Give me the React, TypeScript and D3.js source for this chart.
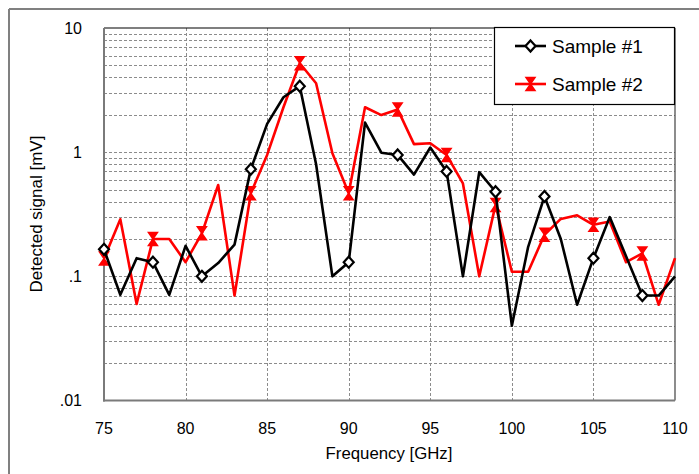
import React from "react";
import * as d3 from "d3";

const freqs = [75, 76, 77, 78, 79, 80, 81, 82, 83, 84, 85, 86, 87, 88, 89, 90, 91, 92, 93, 94, 95, 96, 97, 98, 99, 100, 101, 102, 103, 104, 105, 106, 107, 108, 109, 110];
const sample1 = [0.165, 0.071, 0.14, 0.13, 0.071, 0.176, 0.1, 0.128, 0.18, 0.73, 1.69, 2.77, 3.4, 0.8, 0.1, 0.13, 1.73, 0.99, 0.95, 0.66, 1.09, 0.7, 0.1, 0.69, 0.48, 0.04, 0.173, 0.44, 0.2, 0.059, 0.14, 0.3, 0.145, 0.07, 0.07, 0.1];
const sample2 = [0.139, 0.288, 0.06, 0.2, 0.2, 0.13, 0.222, 0.544, 0.07, 0.467, 0.95, 2.3, 5.2, 3.59, 0.98, 0.467, 2.3, 1.99, 2.21, 1.16, 1.18, 0.95, 0.56, 0.1, 0.376, 0.109, 0.109, 0.216, 0.29, 0.31, 0.26, 0.276, 0.13, 0.153, 0.059, 0.14];
const xTicks = [75, 80, 85, 90, 95, 100, 105, 110];
const yTicks = [10, 1, 0.1, 0.01];
const yTickLabels = ["10", "1", ".1", ".01"];
const seriesNames = ["Sample #1", "Sample #2"];

const FONT = "Arial, 'Liberation Sans', sans-serif";

const diamond = "M0,-5.5L5,0L0,5.5L-5,0Z";
const hourglass = "M-4.5,-6.5L4.5,-6.5L0,0ZM-4.5,6.5L4.5,6.5L0,0Z";

export default function App() {
  const L = 104, R = 675, T = 28, B = 400.5;
  const x = d3.scaleLinear().domain([75, 110]).range([L, R]);
  const y = d3.scaleLog().domain([0.01, 10]).range([B, T]);

  const gridY: number[] = [];
  [0.01, 0.1, 1].forEach((dec) => {
    for (let k = 1; k <= 9; k++) {
      const v = k * dec;
      if (v > 0.0100001) gridY.push(v);
    }
  });
  const gridX = xTicks.filter((t) => t > 75 && t < 110);

  const line = d3
    .line<number>()
    .x((_, i) => x(freqs[i]))
    .y((d) => y(d));

  const markerIdx = freqs.map((_, i) => i).filter((i) => i % 3 === 0 && freqs[i] <= 108);

  return (
    <div style={{ position: "absolute", left: 0, top: 0 }}>
      <svg width={699} height={474} style={{ display: "block", background: "#fff" }}>
        {/* outer frame */}
        <line x1={9} y1={9} x2={699} y2={9} stroke="#808080" strokeWidth={2} />
        <line x1={9} y1={9} x2={9} y2={474} stroke="#808080" strokeWidth={2} />

        {/* grid */}
        {gridY.map((v, i) => (
          <line key={"gy" + i} x1={L} x2={R} y1={Math.round(y(v)) + 0.5} y2={Math.round(y(v)) + 0.5} stroke="#8c8c8c" strokeWidth={1} strokeDasharray="3,2" />
        ))}
        {gridX.map((v, i) => (
          <line key={"gx" + i} x1={Math.round(x(v)) + 0.5} x2={Math.round(x(v)) + 0.5} y1={T} y2={B} stroke="#8c8c8c" strokeWidth={1} strokeDasharray="3,2" />
        ))}

        {/* plot borders */}
        <line x1={L} y1={T} x2={R} y2={T} stroke="#000" strokeWidth={1.2} />
        <line x1={R} y1={T} x2={R} y2={B} stroke="#404040" strokeWidth={1.2} />
        <line x1={L} y1={T} x2={L} y2={B + 1} stroke="#7a7a7a" strokeWidth={2} />
        <line x1={L - 1} y1={B} x2={R} y2={B} stroke="#7a7a7a" strokeWidth={2} />

        {/* series */}
        <path d={line(sample2) || ""} fill="none" stroke="#ff0000" strokeWidth={2.6} strokeLinejoin="round" />
        {markerIdx.map((i) => (
          <path key={"m2" + i} d={hourglass} transform={`translate(${x(freqs[i])},${y(sample2[i])})`} fill="#ff0000" stroke="#ff0000" strokeWidth={1.5} />
        ))}
        <path d={line(sample1) || ""} fill="none" stroke="#000" strokeWidth={2.6} strokeLinejoin="round" />
        {markerIdx.map((i) => (
          <path key={"m1" + i} d={diamond} transform={`translate(${x(freqs[i])},${y(sample1[i])})`} fill="#fff" stroke="#000" strokeWidth={2.2} />
        ))}

        {/* y tick labels */}
        {yTicks.map((v, i) => (
          <text key={"yt" + i} x={82} y={y(v)} textAnchor="end" dominantBaseline="central" fontFamily={FONT} fontSize={16} fill="#000">
            {yTickLabels[i]}
          </text>
        ))}
        {/* x tick labels */}
        {xTicks.map((v, i) => (
          <text key={"xt" + i} x={x(v)} y={428} textAnchor="middle" dominantBaseline="central" fontFamily={FONT} fontSize={16} fill="#000">
            {v}
          </text>
        ))}

        {/* axis titles */}
        <text x={389} y={453} textAnchor="middle" dominantBaseline="central" fontFamily={FONT} fontSize={16.8} fill="#000">
          Frequency [GHz]
        </text>
        <text transform={`translate(36,214) rotate(-90)`} textAnchor="middle" dominantBaseline="central" fontFamily={FONT} fontSize={17} fill="#000">
          Detected signal [mV]
        </text>

        {/* legend */}
        <rect x={494.5} y={27.5} width={180} height={77} fill="#fff" stroke="#000" strokeWidth={1.2} />
        <line x1={515} x2={546} y1={46} y2={46} stroke="#000" strokeWidth={2.6} />
        <path d={diamond} transform="translate(530.5,46)" fill="#fff" stroke="#000" strokeWidth={2.2} />
        <text x={552} y={46} dominantBaseline="central" fontFamily={FONT} fontSize={19} fill="#000">
          {seriesNames[0]}
        </text>
        <line x1={515} x2={546} y1={84} y2={84} stroke="#ff0000" strokeWidth={2.6} />
        <path d={hourglass} transform="translate(530.5,84)" fill="#ff0000" stroke="#ff0000" strokeWidth={1.5} />
        <text x={552} y={84} dominantBaseline="central" fontFamily={FONT} fontSize={19} fill="#000">
          {seriesNames[1]}
        </text>
      </svg>
    </div>
  );
}
